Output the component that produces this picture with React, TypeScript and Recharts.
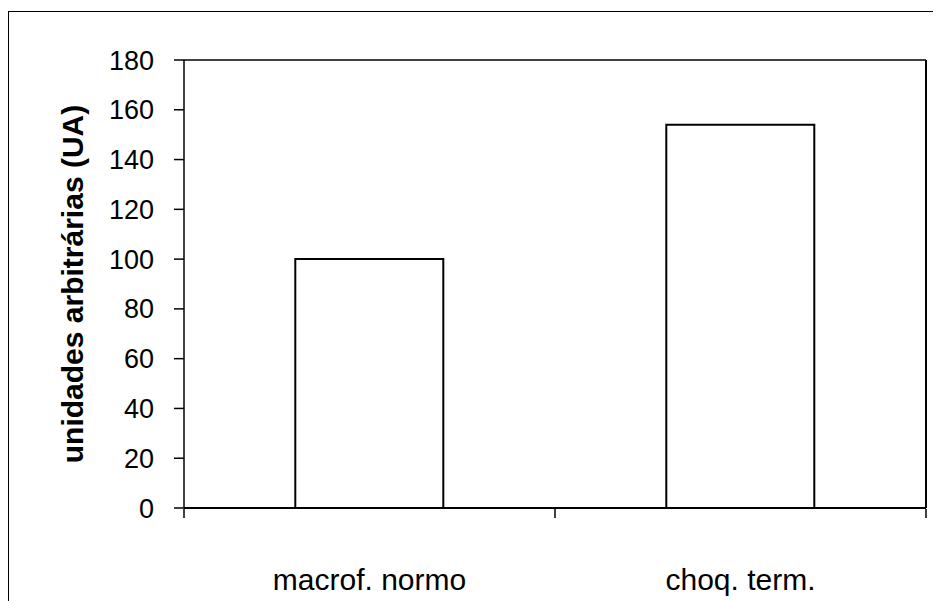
import React from "react";
import { BarChart, Bar, XAxis, YAxis, ReferenceLine } from "recharts";

const categories = ["macrof. normo", "choq. term."];
const values = [100, 154];
const yTicks = [0, 20, 40, 60, 80, 100, 120, 140, 160, 180];
const boundaryTicks = [0, 1, 2];
const yLabel = "unidades arbitrárias (UA)";

const data = categories.map((c, i) => ({ name: c, value: values[i], pos: i + 0.5 }));

const FONT = "'Liberation Sans', Arial, Helvetica, sans-serif";

const YLabel = (props: any) => {
  const vb = props.viewBox || {};
  const cx = 63;
  const cy = (vb.y ?? 0) + (vb.height ?? 0) / 2;
  return (
    <text
      x={cx}
      y={cy}
      transform={`rotate(-90, ${cx}, ${cy})`}
      textAnchor="middle"
      dominantBaseline="central"
      fontFamily={FONT}
      fontWeight="bold"
      fontSize={30}
      fill="#000"
    >
      {yLabel}
    </text>
  );
};

const EmptyTick = () => <g />;

export default function App() {
  return (
    <div
      style={{
        marginTop: 3,
        width: 932,
        height: 589,
        borderTop: "1px solid #000",
        borderLeft: "1px solid #000",
        background: "#fff",
        overflow: "hidden",
      }}
    >
      <BarChart
        width={932}
        height={589}
        data={data}
        margin={{ top: 48, right: 15, bottom: 91, left: 0 }}
        barCategoryGap="30%"
      >
        <XAxis
          dataKey="name"
          height={1}
          tickLine={false}
          tickSize={0}
          tickMargin={61}
          axisLine={{ stroke: "#000", strokeWidth: 2 }}
          tick={{ fill: "#000", fontSize: 30, fontFamily: FONT }}
          interval={0}
        />
        <XAxis
          xAxisId="bounds"
          dataKey="pos"
          type="number"
          domain={[0, 2]}
          allowDataOverflow
          ticks={boundaryTicks}
          interval={0}
          height={1}
          tickSize={9}
          tick={<EmptyTick />}
          axisLine={false}
          tickLine={{ stroke: "#000", strokeWidth: 1.5 }}
        />
        <YAxis
          domain={[0, 180]}
          ticks={yTicks}
          width={175}
          tickSize={10}
          tickMargin={20}
          interval={0}
          axisLine={{ stroke: "#000", strokeWidth: 1.5 }}
          tickLine={{ stroke: "#000", strokeWidth: 1.5 }}
          tick={{ fill: "#000", fontSize: 27, fontFamily: FONT }}
          label={<YLabel />}
        />
        <ReferenceLine y={180} stroke="#000" strokeWidth={1.5} />
        <ReferenceLine xAxisId="bounds" x={2} stroke="#000" strokeWidth={2} />
        <Bar
          dataKey="value"
          fill="#fff"
          stroke="#000"
          strokeWidth={2}
          isAnimationActive={false}
        />
      </BarChart>
    </div>
  );
}
